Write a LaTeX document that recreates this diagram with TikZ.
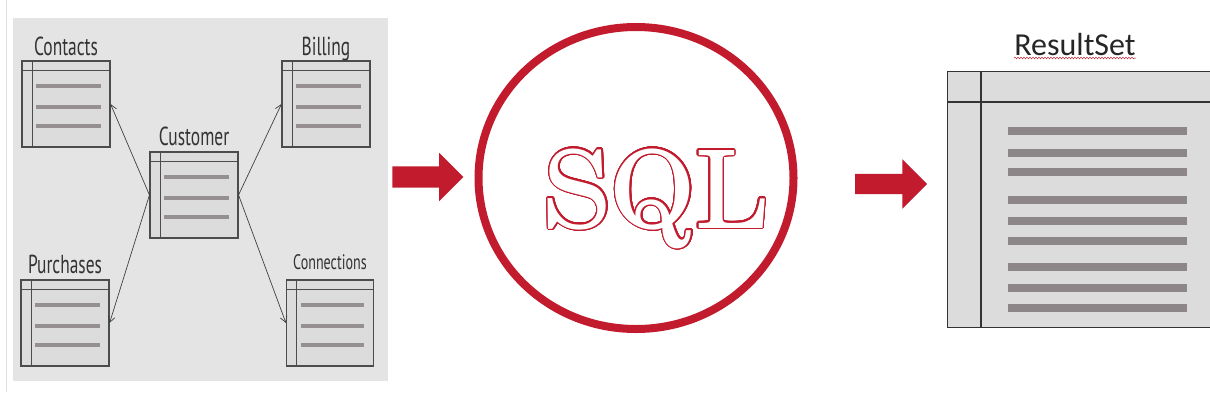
\documentclass[tikz,border=0pt]{standalone}
\usepackage{fontspec}
\usepackage{contour}
\usetikzlibrary{shapes.geometric,shapes.arrows,arrows.meta,decorations.pathmorphing}
\newfontfamily\tblfont[FakeStretch=0.67]{PT Sans}
\newfontfamily\rsfont{Carlito}
\newfontfamily\sqlfont{texgyreschola-regular.otf}
\definecolor{sqlred}{RGB}{193,27,45}
\definecolor{panelgray}{RGB}{228,228,228}
\definecolor{tblgray}{RGB}{220,220,220}
\definecolor{bargray}{RGB}{150,143,145}
\definecolor{rsbar}{RGB}{140,134,136}
\contourlength{1.1pt}
\contournumber{48}

\begin{document}
\begin{tikzpicture}[x=1pt,y=-1pt,
	tbl/.style={draw=black!70, fill=tblgray, line width=1.1pt, minimum width=88pt, minimum height=86pt, inner sep=0pt},
	tbllabel/.style={font=\tblfont\fontsize{26}{26}\selectfont, text=black!80, inner sep=0pt, anchor=base},
	bar/.style={draw=bargray, line width=4pt},
	link/.style={draw=black!75, line width=0.7pt, -{Straight Barb[length=6pt,width=7pt]}},
	redarrow/.style={single arrow, fill=sqlred, inner sep=0pt, text depth=0pt, single arrow head indent=0pt}]
	\useasboundingbox (0,0) rectangle (1210,408);

	% schema panel
	\draw[black!12, line width=1pt] (6,0) -- (6,392);
	\node (panel) at (13,18)	[anchor=north west, fill=panelgray, minimum width=375pt, minimum height=363pt, inner sep=0pt] {};

	\node (contacts) at (66,104)	[tbl] {};
	\node (billing) at (326,104)	[tbl] {};
	\node (customer) at (194,195)	[tbl] {};
	\node (purchases) at (65,323)	[tbl] {};
	\node (connections) at (330,323)	[tbl, minimum width=87pt] {};

	\node at ([yshift=5pt]contacts.north)	[tbllabel] {Contacts};
	\node at ([yshift=5pt]billing.north)	[tbllabel] {Billing};
	\node at ([yshift=6pt]customer.north)	[tbllabel] {Customer};
	\node at ([yshift=6pt]purchases.north)	[tbllabel] {Purchases};
	\node at ([yshift=10pt]connections.north)	[tbllabel, font=\tblfont\fontsize{21}{21}\selectfont] {Connections};

	\foreach \t in {contacts,billing,customer,purchases,connections}{
		\draw[black!70, line width=1pt] ([yshift=-10pt]\t.north west) -- ([yshift=-10pt]\t.north east);
		\draw[black!70, line width=1pt] ([xshift=11pt]\t.north west) -- ([xshift=11pt]\t.south west);
		\foreach \d in {26,47,66}
			\draw[bar] ([xshift=15pt,yshift=-\d pt]\t.north west) -- ([xshift=-10pt,yshift=-\d pt]\t.north east);
	}

	\draw[link] (customer.west) -- (contacts.east);
	\draw[link] (customer.west) -- (purchases.east);
	\draw[link] (customer.east) -- (billing.west);
	\draw[link] (customer.east) -- (connections.west);

	% query
	\node (toSQL) at (422.5,177)	[redarrow, minimum height=71pt, text height=21pt, single arrow head extend=13.5pt] {};
	\node (sql) at (636,178)	[ellipse, draw=sqlred, line width=8pt, minimum width=315pt, minimum height=302pt, inner sep=0pt] {};
	\node (sqltext) at (655,228)	[anchor=base, inner sep=0pt, font=\sqlfont\fontsize{108}{108}\selectfont] {\contour{sqlred}{\textcolor{white}{SQL}}};

	% result
	\node (toResult) at (886,184)	[redarrow, minimum height=72pt, text height=20pt, single arrow head extend=14.5pt] {};
	\node (result) at (947,71)	[anchor=north west, draw=black!80, fill=tblgray, line width=1.2pt, minimum width=267pt, minimum height=256pt, inner sep=0pt] {};
	\draw[black!80, line width=1.2pt] ([yshift=-31pt]result.north west) -- ([yshift=-31pt]result.north east);
	\draw[black!80, line width=1.2pt] ([xshift=34pt]result.north west) -- ([xshift=34pt]result.south west);
	\foreach \d in {60,82,101,129,150,170,196,217,237}
		\draw[rsbar, line width=8pt] ([xshift=61pt,yshift=-\d pt]result.north west) -- ++(179,0);

	\node (rslabel) at (1075,55)	[anchor=base, inner sep=0pt, font=\rsfont\fontsize{32}{32}\selectfont, text=black!85] {ResultSet};
	\draw[sqlred, line width=0.5pt, decorate, decoration={snake, amplitude=0.8pt, segment length=3pt}] ([yshift=-3pt]rslabel.base west) -- ([yshift=-3pt]rslabel.base east);
\end{tikzpicture}
\end{document}
